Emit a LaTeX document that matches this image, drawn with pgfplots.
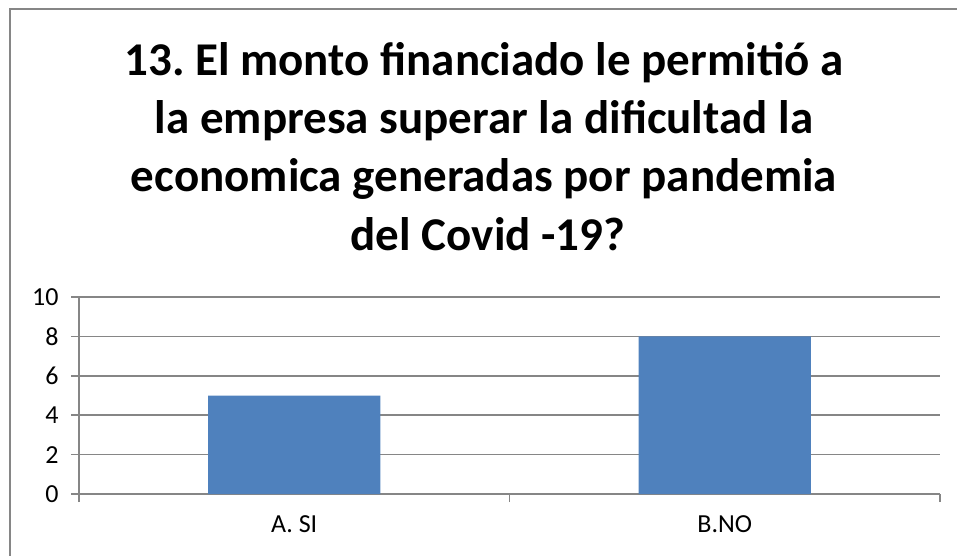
\documentclass[border=0pt]{standalone}
\usepackage{pgfplots}
\pgfplotsset{compat=1.18}
\usepackage{fontspec}
\setmainfont{Carlito}
\frenchspacing
\definecolor{barblue}{RGB}{79,129,189}
\definecolor{gridgray}{RGB}{134,134,134}
\begin{document}
\begin{tikzpicture}[x=1pt,y=1pt]
  \useasboundingbox (0,0) rectangle (957,555);
  % chart frame (right and bottom edges run off the picture)
  \draw[gridgray, line width=1.5pt] (10,-10) -- (10,546) -- (970,546);
  % title
  \begin{scope}[every node/.style={anchor=base, font=\fontsize{47}{57}\selectfont\bfseries}]
    \node at (484,479) {13. El monto financiado le permitió a};
    \node at (484,421) {la empresa superar la dificultad la};
    \node at (484,363) {economica generadas por pandemia};
    \node at (488,305) {del Covid -19?};
  \end{scope}
  \begin{axis}[
      at={(79pt,61pt)}, anchor=south west,
      scale only axis,
      width=861pt, height=197pt,
      xmin=0, xmax=2,
      ymin=0, ymax=10,
      ytick={0,2,...,10},
      xtick={0.5,1.5},
      xticklabels={A. SI, B.NO},
      minor xtick={0,1,2},
      axis x line*=bottom,
      axis y line*=left,
      axis line style={gridgray, line width=1.5pt, -},
      tick align=outside,
      major tick length=8pt,
      minor tick length=8pt,
      tick style={gridgray, line width=1.5pt},
      major x tick style={draw=none},
      ymajorgrids,
      grid style={gridgray, line width=1.5pt},
      tick label style={font=\fontsize{26}{30}\selectfont},
      /pgf/number format/assume math mode=true,
      yticklabel style={xshift=-9pt},
      xticklabel style={yshift=-10pt},
    ]
    \addplot[ybar, bar width=0.4, fill=barblue, draw=none] coordinates {
      (0.5,5) (1.5,8)
    };
  \end{axis}
\end{tikzpicture}
\end{document}
